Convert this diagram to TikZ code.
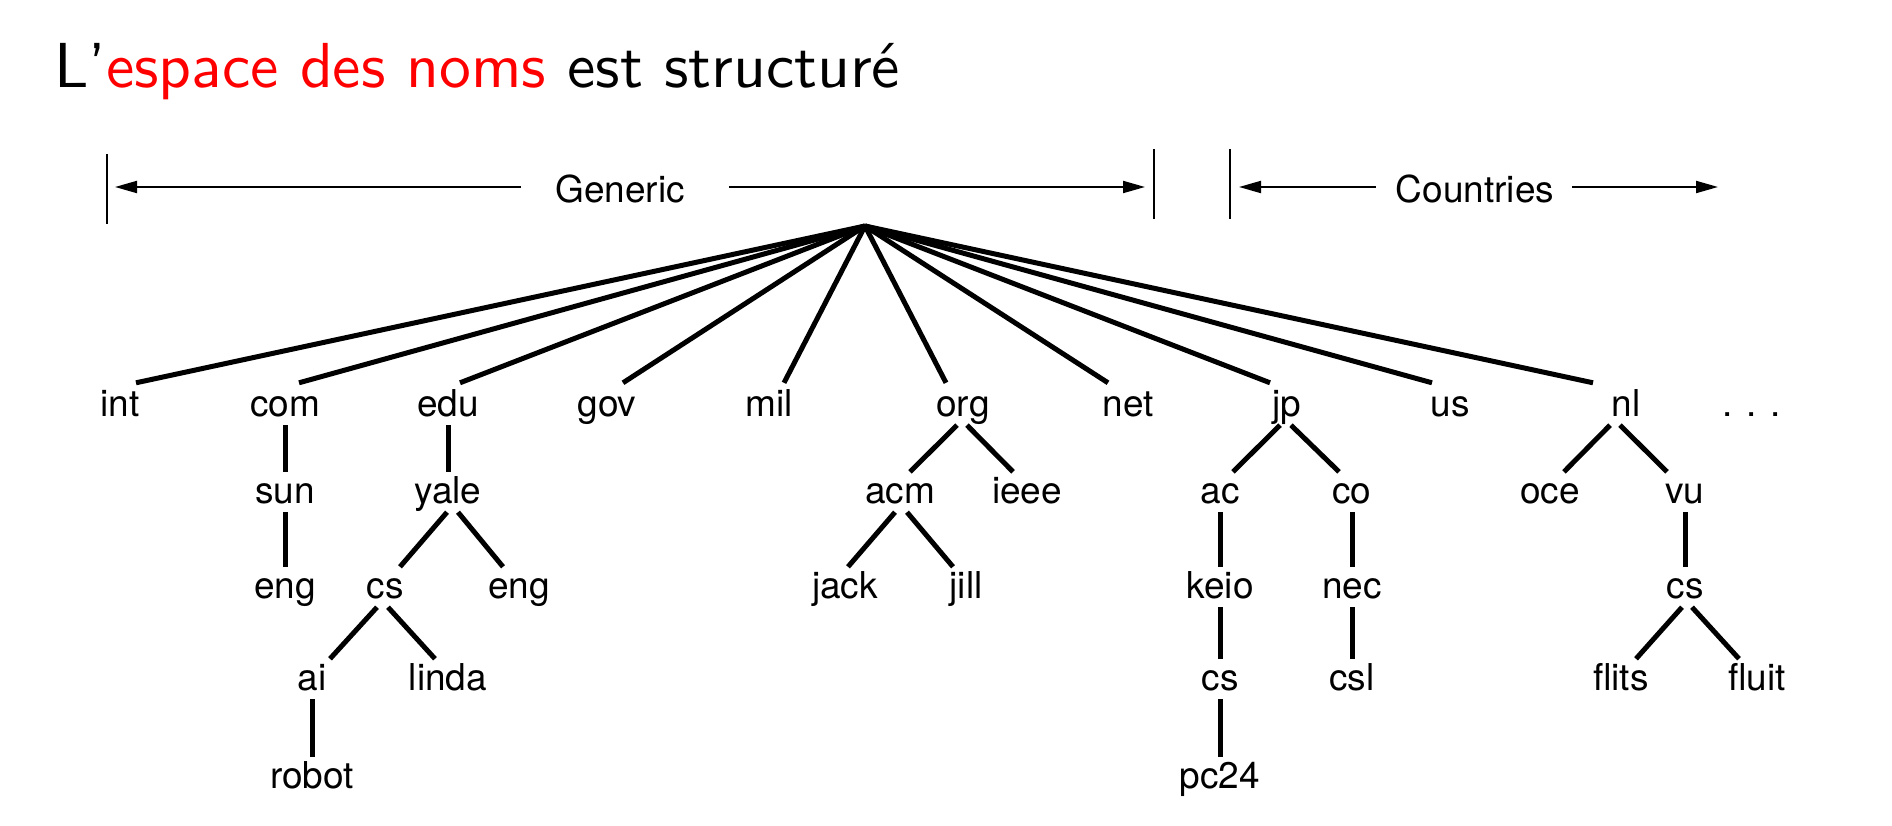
\documentclass[tikz,border=0pt]{standalone}
\usepackage{fontspec}
\newfontfamily\helv{TeX Gyre Heros}
\newfontfamily\titlefont{lmsans10-regular}[Extension=.otf]
\usetikzlibrary{arrows.meta,calc}
\tikzset{
  lbl/.style={font=\helv\fontsize{37}{44}\selectfont, inner xsep=0pt, inner ysep=0pt,
              text height=31pt, text depth=9pt, anchor=base},
  edge/.style={line width=5pt},
  bar/.style={line width=2pt},
  arr/.style={line width=2pt, -{Triangle[length=22pt,width=12pt]}},
}
\begin{document}
\begin{tikzpicture}[x=1pt,y=-1pt]
\useasboundingbox (0,0) rectangle (1892,826);
% title
\node[anchor=base west, inner sep=0pt, font=\titlefont\fontsize{63.6}{70}\selectfont] (title) at (54,88)
  {L’\textcolor{red}{espace des noms} est structuré};
% brackets
\coordinate (b1t) at (107,154); \coordinate (b1b) at (107,224);
\coordinate (b2t) at (1154,149); \coordinate (b2b) at (1154,219);
\coordinate (b3t) at (1230,149); \coordinate (b3b) at (1230,219);
\draw[bar] (b1t) -- (b1b);
\draw[bar] (b2t) -- (b2b);
\draw[bar] (b3t) -- (b3b);
\coordinate (gL) at (115,187); \coordinate (gR) at (1145,187);
\coordinate (cL) at (1239,187); \coordinate (cR) at (1718,187);
\node[lbl] (gen) at (620,203) {Generic};
\node[lbl] (cty) at (1475,203) {Countries};
\draw[arr] ($(gen.base west)+(-34,-16)$) -- (gL);
\draw[arr] ($(gen.base east)+(44,-16)$) -- (gR);
\draw[arr] ($(cty.base west)+(-20,-16)$) -- (cL);
\draw[arr] ($(cty.base east)+(18,-16)$) -- (cR);
% root
\coordinate (root) at (865,226);
% row 1
\node[lbl] (int) at (120,416) {int};
\node[lbl] (com) at (285,416) {com};
\node[lbl] (edu) at (448,416) {edu};
\node[lbl] (gov) at (607,416) {gov};
\node[lbl] (mil) at (769,416) {mil};
\node[lbl] (org) at (963,416) {org};
\node[lbl] (net) at (1128,416) {net};
\node[lbl] (jp) at (1287,416) {jp};
\node[lbl] (us) at (1450,416) {us};
\node[lbl] (nl) at (1626,416) {nl};
\node[lbl] (dots) at (1752,416) {. . .};
% row 2
\node[lbl] (sun) at (285,503) {sun};
\node[lbl] (yale) at (448,503) {yale};
\node[lbl] (acm) at (900,503) {acm};
\node[lbl] (ieee) at (1027,503) {ieee};
\node[lbl] (ac) at (1220,503) {ac};
\node[lbl] (co) at (1352,503) {co};
\node[lbl] (oce) at (1550,503) {oce};
\node[lbl] (vu) at (1685,503) {vu};
% row 3
\node[lbl] (eng1) at (285,598) {eng};
\node[lbl] (cs1) at (385,598) {cs};
\node[lbl] (eng2) at (519,598) {eng};
\node[lbl] (jack) at (845,598) {jack};
\node[lbl] (jill) at (966,598) {jill};
\node[lbl] (keio) at (1220,598) {keio};
\node[lbl] (nec) at (1352,598) {nec};
\node[lbl] (cs3) at (1685,598) {cs};
% row 4
\node[lbl] (ai) at (312,690) {ai};
\node[lbl] (linda) at (448,690) {linda};
\node[lbl] (cs2) at (1220,690) {cs};
\node[lbl] (csl) at (1352,690) {csl};
\node[lbl] (flits) at (1621,690) {flits};
\node[lbl] (fluit) at (1757,690) {fluit};
% row 5
\node[lbl] (robot) at (312,788) {robot};
\node[lbl] (pc24) at (1220,788) {pc24};
% top-level edges
\draw[edge] (root) -- ([xshift=16pt,yshift=2pt]int.north);
\draw[edge] (root) -- ([xshift=14pt,yshift=2pt]com.north);
\draw[edge] (root) -- ([xshift=12pt,yshift=2pt]edu.north);
\draw[edge] (root) -- ([xshift=16pt,yshift=2pt]gov.north);
\draw[edge] (root) -- ([xshift=15pt,yshift=2pt]mil.north);
\draw[edge] (root) -- ([xshift=-17pt,yshift=2pt]org.north);
\draw[edge] (root) -- ([xshift=-20pt,yshift=2pt]net.north);
\draw[edge] (root) -- ([xshift=-17pt,yshift=2pt]jp.north);
\draw[edge] (root) -- ([xshift=-18pt,yshift=2pt]us.north);
\draw[edge] (root) -- ([xshift=-33pt,yshift=2pt]nl.north);
% vertical edges
\draw[edge] (com.south) -- (sun.north);
\draw[edge] (sun.south) -- (eng1.north);
\draw[edge] (edu.south) -- (yale.north);
\draw[edge] (ai.south) -- (robot.north);
\draw[edge] (ac.south) -- (keio.north);
\draw[edge] (keio.south) -- (cs2.north);
\draw[edge] (cs2.south) -- (pc24.north);
\draw[edge] (co.south) -- (nec.north);
\draw[edge] (nec.south) -- (csl.north);
\draw[edge] (vu.south) -- (cs3.north);
% diagonal edges
\draw[edge] ([xshift=-1pt]yale.south) -- ([xshift=15pt]cs1.north);
\draw[edge] ([xshift=10pt]yale.south) -- ([xshift=-16pt]eng2.north);
\draw[edge] ([xshift=-8pt]cs1.south) -- ([xshift=18pt]ai.north);
\draw[edge] ([xshift=3pt]cs1.south) -- ([xshift=-13pt]linda.north);
\draw[edge] ([xshift=-6pt]org.south) -- ([xshift=10pt]acm.north);
\draw[edge] ([xshift=4pt]org.south) -- ([xshift=-14pt]ieee.north);
\draw[edge] ([xshift=-5pt]acm.south) -- ([xshift=3pt]jack.north);
\draw[edge] ([xshift=7pt]acm.south) -- ([xshift=-13pt]jill.north);
\draw[edge] ([xshift=-7pt]jp.south) -- ([xshift=13pt]ac.north);
\draw[edge] ([xshift=4pt]jp.south) -- ([xshift=-13pt]co.north);
\draw[edge] ([xshift=-16pt]nl.south) -- ([xshift=14pt]oce.north);
\draw[edge] ([xshift=-6pt]nl.south) -- ([xshift=-18pt]vu.north);
\draw[edge] ([xshift=-3pt]cs3.south) -- ([xshift=15pt]flits.north);
\draw[edge] ([xshift=7pt]cs3.south) -- ([xshift=-18pt]fluit.north);
\end{tikzpicture}
\end{document}
